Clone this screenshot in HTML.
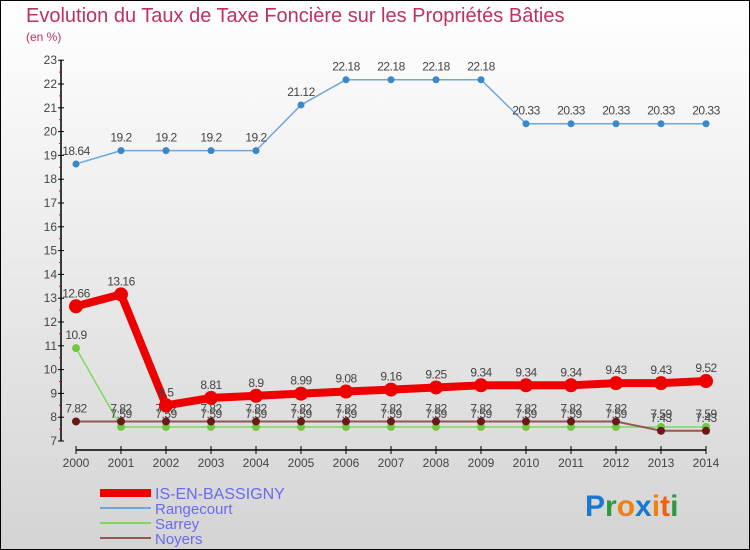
<!DOCTYPE html>
<html><head><meta charset="utf-8"><style>
body{margin:0}
#c{width:750px;height:550px;position:relative;overflow:hidden}
text{font-family:"Liberation Sans",sans-serif}
</style></head><body>
<div id="c">
<svg id="s" width="750" height="550" xmlns="http://www.w3.org/2000/svg">
<defs><linearGradient id="bg" x1="0" y1="0" x2="0" y2="1"><stop offset="0" stop-color="#ffffff"/><stop offset="1" stop-color="#d4d4d4"/></linearGradient></defs>
<rect x="0.5" y="0.5" width="749" height="549" fill="url(#bg)" stroke="#000"/>
<text x="26" y="22" font-size="20" fill="#c0305f">Evolution du Taux de Taxe Foncière sur les Propriétés Bâties</text>
<text x="26" y="41" font-size="12" fill="#c0305f">(en %)</text>
<g id="axes"></g><g id="series"></g><g id="legend"></g>
<text x="585" y="516" font-size="30" font-weight="bold"><tspan fill="#1a78d0">P</tspan><tspan fill="#2a9a3a">r</tspan><tspan fill="#f08010">o</tspan><tspan fill="#1a78d0">x</tspan><tspan fill="#f08010">i</tspan><tspan fill="#f06010">t</tspan><tspan fill="#2a9a3a">i</tspan></text>
</svg></div>
<script>
const years=[2000,2001,2002,2003,2004,2005,2006,2007,2008,2009,2010,2011,2012,2013,2014];
const yTicks=[7,8,9,10,11,12,13,14,15,16,17,18,19,20,21,22,23];
const main=[12.66,13.16,8.5,8.81,8.9,8.99,9.08,9.16,9.25,9.34,9.34,9.34,9.43,9.43,9.52];
const rangecourt=[18.64,19.2,19.2,19.2,19.2,21.12,22.18,22.18,22.18,22.18,20.33,20.33,20.33,20.33,20.33];
const sarrey=[10.9,7.59,7.59,7.59,7.59,7.59,7.59,7.59,7.59,7.59,7.59,7.59,7.59,7.59,7.59];
const noyers=[7.82,7.82,7.82,7.82,7.82,7.82,7.82,7.82,7.82,7.82,7.82,7.82,7.82,7.43,7.43];
const NS="http://www.w3.org/2000/svg";
const X=i=>76+i*45, Y=v=>441-(v-7)*23.8;
function mk(p,t,a){const e=document.createElementNS(NS,t);for(const k in a)e.setAttribute(k,a[k]);p.appendChild(e);return e;}
const ax=document.getElementById('axes');
const yl=mk(ax,'line',{x1:61,y1:Y(23),x2:61,y2:Y(7),stroke:'#000','stroke-width':1.5});


yTicks.forEach(v=>{mk(ax,'line',{x1:58,x2:64,y1:Y(v),y2:Y(v),stroke:'#000'});
 if(v<23)mk(ax,'line',{x1:59,x2:61,y1:Y(v+0.5),y2:Y(v+0.5),stroke:'#e00'});
 const t=mk(ax,'text',{x:57,y:Y(v)+4,'font-size':12,fill:'#444','text-anchor':'end'});t.textContent=v;
 
 });
const xl=mk(ax,'line',{x1:X(0),x2:X(years.length-1),y1:450,y2:450,stroke:'#000','stroke-width':1.5});


years.forEach((y,i)=>{mk(ax,'line',{x1:X(i),x2:X(i),y1:446,y2:454,stroke:'#000'});
 const t=mk(ax,'text',{x:X(i),y:467,'font-size':12,fill:'#444','text-anchor':'middle'});t.textContent=y;
 
 });
const sg=document.getElementById('series');
function draw(name,data,col,w,r,dot){
 const g=mk(sg,'g',{});
 
 
 mk(g,'polyline',{points:data.map((v,i)=>X(i)+','+Y(v)).join(' '),fill:'none',stroke:col,'stroke-width':w,'stroke-linejoin':'round'});
 data.forEach((v,i)=>{const c=mk(g,'circle',{cx:X(i),cy:Y(v),r:r,fill:dot});
  
  
  const t=mk(g,'text',{x:X(i),y:Y(v)-9,'font-size':12,fill:'#444','text-anchor':'middle','letter-spacing':'-0.5'});t.textContent=v;});
}
draw('rangecourt',rangecourt,'#6fa8d8',1.5,3.5,'#3a88c8');
draw('sarrey',sarrey,'#80d860',1.5,4,'#70c840');
draw('noyers',noyers,'#905858',2,4,'#6a1818');
draw('main-commune',main,'#ee0000',8,7,'#ee0000');
const lg=document.getElementById('legend');
[['IS-EN-BASSIGNY','#ee0000',8],['Rangecourt','#6fa8d8',2],['Sarrey','#80d860',2],['Noyers','#905858',2]].forEach((e,i)=>{
 const y=493+i*15;
 const g=mk(lg,'g',{});
 
 
 mk(g,'line',{x1:100,x2:151,y1:y,y2:y,stroke:e[1],'stroke-width':e[2]});
 const t=mk(g,'text',{x:155,y:y+6,'font-size':i==0?16:15,fill:'#6a6aee'});t.textContent=e[0];});
</script>
</body></html>
